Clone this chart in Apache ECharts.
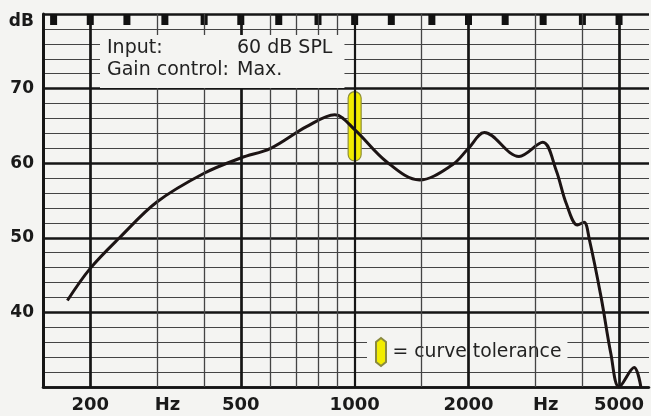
<!DOCTYPE html>
<html>
<head>
<meta charset="utf-8">
<script src="https://cdn.jsdelivr.net/npm/echarts@6/dist/echarts.min.js"></script>
<style>
html,body{margin:0;padding:0;background:#f4f4f2;}
#c{width:651px;height:416px;}
</style>
</head>
<body>
<div id="c"></div>
<script>
// ---- data ----
const curveFreq = [174, 200, 240, 300, 400, 500, 600, 746, 886, 1000, 1214, 1484, 1814, 2000, 2202, 2719, 3143, 3407, 3626, 3883, 4040, 4176, 4482, 4760, 5000, 5480, 5710];
const curveDb   = [41.6, 45.9, 50.1, 54.8, 58.65, 60.7, 62.0, 64.9, 66.5, 64.5, 60.2, 57.75, 59.8, 62.0, 64.1, 60.9, 62.8, 59.1, 54.6, 51.7, 52.1, 49.7, 42.05, 34.4, 30.0, 32.6, 30.0];
const toleranceFreq = [1000];
const toleranceLow  = [60.3];
const toleranceHigh = [69.6];
const xTickLabels = [200, 500, 1000, 2000, 5000];
const unitLabelPos = [320, 3200];
const majorVLines = [200, 500, 1000, 2000, 5000];
const minorVLines = [300, 400, 600, 700, 800, 900, 1500, 3000, 4000];
const thirdOctave = [160, 200, 250, 315, 400, 500, 630, 800, 1000, 1250, 1600, 2000, 2500, 3150, 4000, 5000];
const yTop = 80, yBottom = 30;
const infoLines = [['Input:', '60 dB SPL'], ['Gain control:', 'Max.']];

const BG = '#f4f4f2';
const curveData = curveFreq.map((f, i) => [f, curveDb[i]]);
const tolData = toleranceFreq.map((f, i) => [f, toleranceLow[i], toleranceHigh[i]]);
const tabData = thirdOctave.map(f => [f, yTop]);

const vLineData = majorVLines.map(f => ({xAxis: f, lineStyle: {color: '#151515', width: f === 1000 ? 2.2 : 2.7, type: 'solid'}}))
  .concat(minorVLines.map(f => ({xAxis: f, lineStyle: {color: '#444', width: 1.3, type: 'solid'}})));

const txt = {fontFamily: 'DejaVu Sans', fontWeight: 'normal', fontSize: 19, lineHeight: 22, color: '#222'};

const chart = echarts.init(document.getElementById('c'), null, {renderer: 'canvas'});
chart.setOption({
  backgroundColor: BG,
  animation: false,
  grid: {left: 43, right: 2, top: 14, bottom: 29, containLabel: false},
  title: {
    left: 100, top: 35,
    padding: [2, 12, 7, 7],
    backgroundColor: BG,
    text: infoLines.map(r => '{a|' + r[0] + '}{b|' + r[1] + '}').join('\n'),
    textStyle: Object.assign({
      rich: {
        a: Object.assign({width: 130}, txt),
        b: Object.assign({}, txt)
      }
    }, txt)
  },
  legend: {
    left: 367, top: 333,
    padding: [4, 6, 3, 8],
    backgroundColor: BG,
    itemWidth: 13, itemHeight: 28,
    data: [{name: 'curve tolerance', icon: 'path://M5,0L10,4L10,24L5,28L0,24L0,4Z'}],
    formatter: '= {name}',
    textStyle: {fontFamily: 'DejaVu Sans', fontSize: 18.8, color: '#222'},
    selectedMode: false
  },
  xAxis: {
    type: 'log', logBase: 10, min: 150, max: 6000,
    axisLine: {show: true, lineStyle: {color: '#151515', width: 2.6}},
    axisTick: {show: false},
    splitLine: {show: false},
    minorSplitLine: {show: false},
    axisLabel: {
      customValues: xTickLabels.concat(unitLabelPos),
      formatter: v => unitLabelPos.indexOf(v) >= 0 ? 'Hz' : String(v),
      margin: 9,
      fontFamily: 'DejaVu Sans', fontWeight: 'bold', fontSize: 18, color: '#1a1a1a'
    }
  },
  yAxis: [{
    type: 'value', min: yBottom, max: yTop, interval: 10,
    axisLine: {show: true, lineStyle: {color: '#151515', width: 3}},
    axisTick: {show: false},
    splitLine: {show: true, lineStyle: {color: '#151515', width: 2.7}},
    axisLabel: {
      margin: 9,
      formatter: v => v === yTop ? '{u|dB}' : (v === yBottom ? '' : String(v)),
      fontFamily: 'DejaVu Sans', fontWeight: 'bold', fontSize: 17, color: '#1a1a1a',
      rich: {u: {fontFamily: 'DejaVu Sans', fontWeight: 'bold', fontSize: 17, color: '#1a1a1a', padding: [15, 0, 0, 0]}}
    },
    z: 1
  }, {
    type: 'value', min: yBottom, max: yTop, interval: 2,
    axisLine: {show: false}, axisTick: {show: false}, axisLabel: {show: false},
    splitLine: {show: true, lineStyle: {color: '#444', width: 1.2}},
    z: 0
  }],
  series: [{
    name: 'curve tolerance',
    type: 'custom',
    z: 2,
    itemStyle: {color: '#f2ec00', borderColor: '#8a8a40', borderWidth: 1},
    data: tolData,
    renderItem: (params, api) => {
      const t = api.coord([api.value(0), api.value(2)]);
      const b = api.coord([api.value(0), api.value(1)]);
      const w = 13;
      return {type: 'rect', shape: {x: t[0] - w / 2, y: t[1], width: w, height: b[1] - t[1], r: w / 2},
              style: {fill: '#f2ec00', stroke: '#8f8f3a', lineWidth: 1.2}};
    }
  }, {
    name: 'tabs',
    type: 'scatter',
    z: 3,
    symbol: 'rect',
    symbolSize: [7, 11],
    symbolOffset: [0, 5.5],
    itemStyle: {color: '#111', opacity: 1},
    silent: true,
    data: tabData,
    markLine: {silent: true, symbol: ['none', 'none'], label: {show: false}, data: vLineData}
  }, {
    name: 'response',
    type: 'line',
    z: 4,
    smooth: 0.35,
    symbol: 'none',
    lineStyle: {color: '#1c1414', width: 3},
    data: curveData
  }]
});
</script>
</body>
</html>
